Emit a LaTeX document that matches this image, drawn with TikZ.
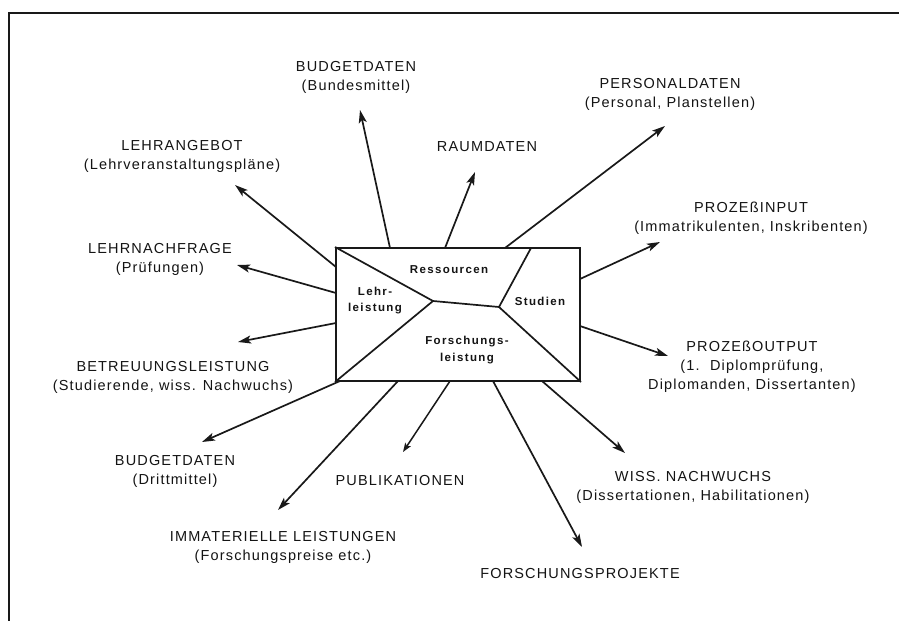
\documentclass[tikz,border=0pt]{standalone}
\usepackage{fontspec}
\setmainfont{Liberation Sans}
\newfontfamily\lblfont[LetterSpace=8]{Liberation Sans}
\newfontfamily\boxfont[LetterSpace=12]{Liberation Sans}
\usetikzlibrary{arrows.meta}
\begin{document}
\begin{tikzpicture}[x=1pt,y=-1pt,
  lbl/.style={font=\lblfont\fontsize{14.5}{19}\selectfont, align=center, inner sep=0pt, text=black!92},
  inlbl/.style={font=\boxfont\bfseries\fontsize{11.5}{16.5}\selectfont, align=center, inner sep=0pt, text=black!92},
  arr/.style={line width=1.7pt, draw=black!90, -{Stealth[length=13pt,width=8pt,inset=3pt]}},
  smallarr/.style={line width=1.5pt, draw=black!90, -{Stealth[length=9pt,width=6.5pt,inset=2pt]}},
  part/.style={line width=1.7pt, draw=black!90},
  frame/.style={line width=2pt, draw=black!90}
  ]
\useasboundingbox (0,0) rectangle (899,621);
\fill[white] (0,0) rectangle (899,621);
\draw[frame] (899,13) -- (9,13) -- (9,621);

% central box
\node[draw=black!90, line width=2pt, minimum width=244pt, minimum height=133pt, inner sep=0pt] (box) at (458,314.5) {};
\coordinate (pL) at (433,301);
\coordinate (pR) at (499,307);
\coordinate (pT) at (531,248);
\draw[part] (box.north west) -- (pL) -- (pR) -- (pT);
\draw[part] (pL) -- (box.south west);
\draw[part] (pR) -- (box.south east);

\node[inlbl] (ress) at (449,270) {Ressourcen};
\node[inlbl] (lehr) at (375,300.5) {Lehr-\\leistung};
\node[inlbl] (stud) at (540,301) {Studien};
\node[inlbl] (forsch) at (467,350) {Forschungs-\\leistung};

% outer labels
\node[lbl] (bund) at (356,77.5) {BUDGETDATEN\\(Bundesmittel)};
\node[lbl] (raum) at (487,147) {RAUMDATEN};
\node[lbl] (pers) at (670,94) {PERSONALDATEN\\(Personal, Planstellen)};
\node[lbl] (angebot) at (182,156.5) {LEHRANGEBOT\\(Lehrveranstaltungspläne)};
\node[lbl] (nachfr) at (160,259) {LEHRNACHFRAGE\\(Prüfungen)};
\node[lbl] (betr) at (173,377) {BETREUUNGSLEISTUNG\\(Studierende, wiss. Nachwuchs)};
\node[lbl] (dritt) at (175,471) {BUDGETDATEN\\(Drittmittel)};
\node[lbl] (immat) at (283,547.5) {IMMATERIELLE LEISTUNGEN\\(Forschungspreise etc.)};
\node[lbl] (publ) at (400,481) {PUBLIKATIONEN};
\node[lbl] (fproj) at (580,573) {FORSCHUNGSPROJEKTE};
\node[lbl] (wiss) at (693,487.5) {WISS. NACHWUCHS\\(Dissertationen, Habilitationen)};
\node[lbl] (pout) at (752,367) {PROZEßOUTPUT\\(1.\ \ Diplomprüfung,\\Diplomanden, Dissertanten)};
\node[lbl] (pin) at (751,218.5) {PROZEßINPUT\\(Immatrikulenten, Inskribenten)};

% arrow start points on the box
\coordinate (sBund) at (390,248);
\coordinate (sRaum) at (445,248);
\coordinate (sPers) at (505,248);
\coordinate (sAng) at (336,267);
\coordinate (sNach) at (336,293);
\coordinate (sBetr) at (336,323);
\coordinate (sDritt) at (340,381);
\coordinate (sImm) at (398,381);
\coordinate (sPubl) at (450,381);
\coordinate (sFpr) at (493,381);
\coordinate (sWiss) at (542,381);
\coordinate (sOut) at (580,326);
\coordinate (sIn) at (580,279);

% arrow tips
\coordinate (tBund) at (360,110);
\coordinate (tRaum) at (475,172);
\coordinate (tPers) at (665,126);
\coordinate (tAng) at (235,185);
\coordinate (tNach) at (237,265);
\coordinate (tBetr) at (238,342);
\coordinate (tDritt) at (202,442);
\coordinate (tImm) at (278,510);
\coordinate (tPubl) at (403,452);
\coordinate (tFpr) at (582,547);
\coordinate (tWiss) at (625,453);
\coordinate (tOut) at (668,356);
\coordinate (tIn) at (660,242);

\draw[arr] (sBund) -- (tBund);
\draw[arr] (sRaum) -- (tRaum);
\draw[arr] (sPers) -- (tPers);
\draw[arr] (sAng) -- (tAng);
\draw[arr] (sNach) -- (tNach);
\draw[arr] (sBetr) -- (tBetr);
\draw[arr] (sDritt) -- (tDritt);
\draw[arr] (sImm) -- (tImm);
\draw[smallarr] (sPubl) -- (tPubl);
\draw[arr] (sFpr) -- (tFpr);
\draw[arr] (sWiss) -- (tWiss);
\draw[arr] (sOut) -- (tOut);
\draw[arr] (sIn) -- (tIn);
\end{tikzpicture}
\end{document}
